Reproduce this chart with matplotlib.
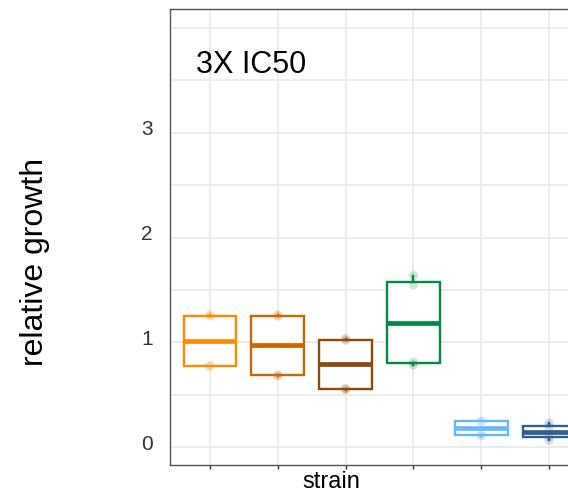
import numpy as np
import matplotlib.pyplot as plt
from matplotlib.transforms import ScaledTranslation

plt.rcParams['font.family'] = ['Liberation Sans', 'DejaVu Sans']

# relative growth per strain, replicate values
strains = ["strain 1", "strain 2", "strain 3", "strain 4", "strain 5", "strain 6"]
growth = [
    [0.77, 0.78, 1.25, 1.265],
    [0.68, 0.69, 1.25, 1.26],
    [0.55, 0.56, 1.02, 1.035],
    [0.786, 0.81, 1.55, 1.635],
    [0.11, 0.115, 0.245, 0.25],
    [0.067, 0.102, 0.19, 0.23],
]
colors = ["#FF8C00", "#CC6600", "#8F4A0A", "#008A45", "#66B8FF", "#2F5F8A"]
panel_title = "3X IC50"
y_major = [0, 1, 2, 3]
y_minor = [0.5, 1.5, 2.5, 3.5, 4.0]

W, H = 568, 492
fig = plt.figure(figsize=(W / 100, H / 100), dpi=100)
x0, x1 = 0.403, 6.6
ax_left, ax_top, ax_bottom = 169.5, 9, 465
ax_w = (x1 - x0) * 67.8
ax = fig.add_axes([ax_left / W, 1 - ax_bottom / H, ax_w / W, (ax_bottom - ax_top) / H])

pos = np.arange(1, len(strains) + 1)
for i, (vals, c) in enumerate(zip(growth, colors)):
    ax.boxplot([vals], positions=[pos[i]], widths=0.78, showcaps=False,
               showfliers=False, patch_artist=True,
               boxprops=dict(facecolor='white', edgecolor=c, linewidth=1.7),
               medianprops=dict(color=c, linewidth=3.4, solid_capstyle='butt'),
               whiskerprops=dict(color=c, linewidth=1.7),
               zorder=3)
    ax.scatter(np.full(len(vals), pos[i]), vals, s=45, color=c, alpha=0.2,
               edgecolors='none', zorder=4)

ax.set_xlim(x0, x1)
ax.set_ylim(-0.17, 4.18)
ax.set_xticks(pos)
ax.set_xticklabels([])
ax.set_yticks(y_major)
ax.set_yticks(y_minor, minor=True)
ax.set_yticklabels([str(v) for v in y_major], fontsize=15, color='#333333')
ax.tick_params(axis='y', which='both', length=0, pad=12)
ax.tick_params(axis='x', length=3, width=1, color='#333333')
# labels sit a little above their grid lines in the reference
for lab in ax.get_yticklabels():
    lab.set_transform(lab.get_transform() + ScaledTranslation(0, 5 / 100, fig.dpi_scale_trans))
ax.grid(True, which='both', color='#EBEBEB', linewidth=1.3, zorder=0)
ax.set_axisbelow(True)
for s in ['left', 'top', 'bottom', 'right']:
    ax.spines[s].set_color('#555555')
    ax.spines[s].set_linewidth(1.0)

fig.text(196 / W, 1 - 73 / H, panel_title, fontsize=22, va='baseline', ha='left')
fig.text(331 / W, 1 - 488 / H, "strain", fontsize=17, va='baseline', ha='center')
fig.text(35 / W, 1 - 262 / H, "relative growth", fontsize=23, rotation=90,
         va='center', ha='center')

fig.savefig("out.png", dpi=100)
